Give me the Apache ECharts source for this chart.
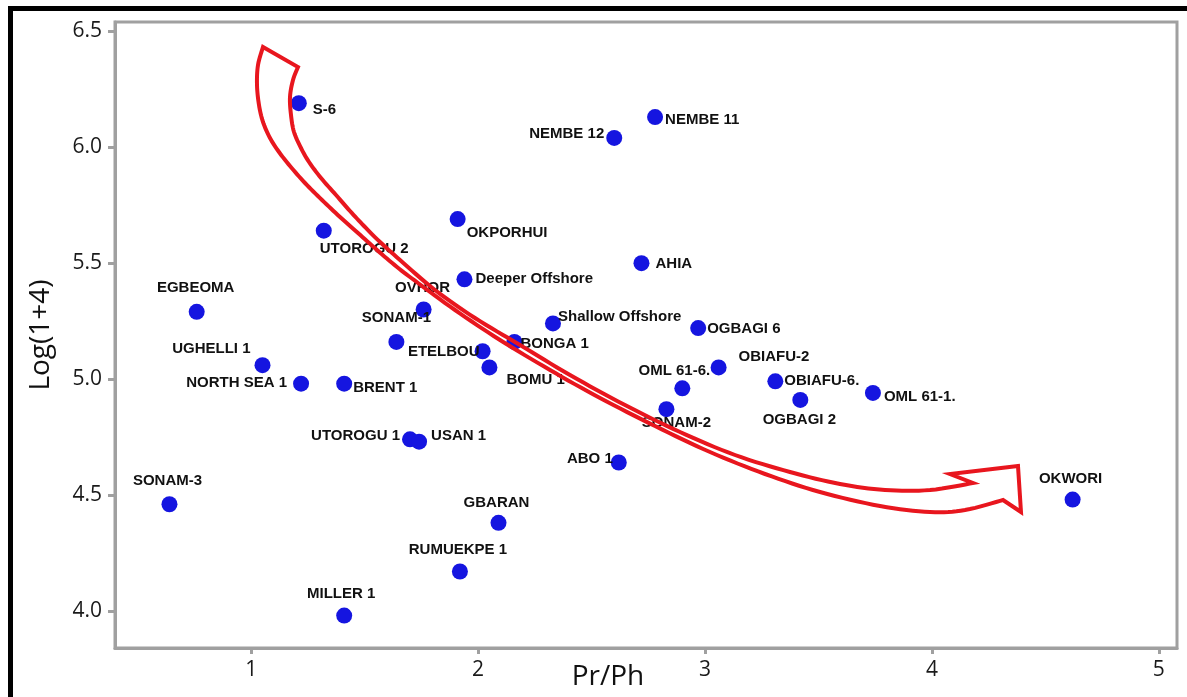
<!DOCTYPE html>
<html>
<head>
<meta charset="utf-8">
<script src="https://cdn.jsdelivr.net/npm/echarts@6/dist/echarts.min.js"></script>
<style>
  html, body { margin: 0; padding: 0; background: #fff; }
  #chart { width: 1187px; height: 697px; }
</style>
</head>
<body>
<div id="chart"></div>
<script>
// sample names and their values (Pr/Ph, Log(1+4))
const names = ['S-6', 'NEMBE 12', 'NEMBE 11', 'UTOROGU 2', 'OKPORHUI', 'AHIA', 'Deeper Offshore',
  'EGBEOMA', 'OVHOR', 'Shallow Offshore', 'OGBAGI 6', 'SONAM-1', 'ETELBOU', 'BONGA 1', 'BOMU 1',
  'UGHELLI 1', 'NORTH SEA 1', 'BRENT 1', 'OML 61-6.', 'OBIAFU-2', 'OBIAFU-6.', 'OGBAGI 2',
  'OML 61-1.', 'SONAM-2', 'UTOROGU 1', 'USAN 1', 'ABO 1', 'GBARAN', 'RUMUEKPE 1', 'MILLER 1',
  'SONAM-3', 'OKWORI'];
const prPh = [1.21, 2.60, 2.78, 1.32, 1.91, 2.72, 1.94,
  0.76, 1.76, 2.33, 2.97, 1.64, 2.02, 2.16, 2.05,
  1.05, 1.22, 1.41, 2.90, 3.06, 3.31, 3.42,
  3.74, 2.83, 1.70, 1.74, 2.62, 2.09, 1.92, 1.41,
  0.64, 4.62];
const logV = [6.19, 6.04, 6.13, 5.64, 5.69, 5.50, 5.43,
  5.29, 5.30, 5.24, 5.22, 5.16, 5.12, 5.16, 5.05,
  5.06, 4.98, 4.98, 4.96, 5.05, 4.99, 4.91,
  4.94, 4.87, 4.74, 4.73, 4.64, 4.38, 4.17, 3.98,
  4.46, 4.48];
const xTicks = [1, 2, 3, 4, 5];
const yTicks = [4.0, 4.5, 5.0, 5.5, 6.0, 6.5];

// label placement: [dx, dy, align] from the point centre
const labelPlace = {
  'S-6': [14, 7, 'left'], 'NEMBE 12': [-10, -4, 'right'], 'NEMBE 11': [10, 3, 'left'],
  'UTOROGU 2': [-4, 18, 'left'], 'OKPORHUI': [9, 14, 'left'], 'AHIA': [14, 1, 'left'],
  'Deeper Offshore': [11, 0, 'left'], 'EGBEOMA': [-1, -24, 'center'], 'OVHOR': [-1, -22, 'center'],
  'Shallow Offshore': [5, -7, 'left'], 'OGBAGI 6': [9, 1, 'left'], 'SONAM-1': [0, -24, 'center'],
  'ETELBOU': [-3, 1, 'right'], 'BONGA 1': [6, 2, 'left'], 'BOMU 1': [17, 12, 'left'],
  'UGHELLI 1': [-12, -16, 'right'], 'NORTH SEA 1': [-14, -1, 'right'], 'BRENT 1': [9, 4, 'left'],
  'OML 61-6.': [-8, -17, 'center'], 'OBIAFU-2': [20, -11, 'left'], 'OBIAFU-6.': [9, -1, 'left'],
  'OGBAGI 2': [-1, 20, 'center'], 'OML 61-1.': [11, 4, 'left'], 'SONAM-2': [10, 14, 'center'],
  'UTOROGU 1': [-10, -3, 'right'], 'USAN 1': [12, -6, 'left'], 'ABO 1': [-6, -4, 'right'],
  'GBARAN': [-2, -20, 'center'], 'RUMUEKPE 1': [-2, -22, 'center'], 'MILLER 1': [-3, -22, 'center'],
  'SONAM-3': [-2, -23, 'center'], 'OKWORI': [-2, -21, 'center']
};

const SYM = 16;
const points = names.map((n, i) => {
  const p = labelPlace[n];
  return {
    name: n,
    value: [prPh[i], logV[i]],
    label: { position: [SYM / 2 + p[0], SYM / 2 + p[1]], align: p[2], verticalAlign: 'middle' }
  };
});

// curved trend arrow (outline only), in chart pixels
const arrowUpper = [[298,67],[293,80],[290,97],[291,115],[294,132],[301,148],[309,162],[321,178],
  [336,195],[350,211],[364,226],[380,242],[400,260],[435,290],[475,318],[520,345],[570,375],
  [625,405],[680,432],[735,455],[790,472],[840,484],[885,490],[930,490],[973,483]];
const arrowLower = [[263,47],[258,65],[257,85],[259,105],[263,122],[270,138],[279,152],[290,166],
  [305,183],[322,200],[340,217],[358,233],[377,250],[397,267],[418,283],[455,310],[500,340],
  [550,370],[600,398],[655,426],[710,452],[765,474],[820,492],[880,506],[930,512],[965,510],[1003,500]];
const arrowHead = [[950,474],[1018,466],[1021,512]];

// Catmull-Rom through the points, sampled densely
function spline(pts) {
  const out = [pts[0]];
  for (let i = 0; i < pts.length - 1; i++) {
    const p0 = pts[Math.max(i - 1, 0)], p1 = pts[i], p2 = pts[i + 1], p3 = pts[Math.min(i + 2, pts.length - 1)];
    const c1 = [p1[0] + (p2[0] - p0[0]) / 6, p1[1] + (p2[1] - p0[1]) / 6];
    const c2 = [p2[0] - (p3[0] - p1[0]) / 6, p2[1] - (p3[1] - p1[1]) / 6];
    for (let k = 1; k <= 8; k++) {
      const t = k / 8, u = 1 - t;
      out.push([
        u * u * u * p1[0] + 3 * u * u * t * c1[0] + 3 * u * t * t * c2[0] + t * t * t * p2[0],
        u * u * u * p1[1] + 3 * u * u * t * c1[1] + 3 * u * t * t * c2[1] + t * t * t * p2[1]
      ]);
    }
  }
  return out;
}
const arrowOutline = [arrowLower[0]]
  .concat(spline(arrowUpper))
  .concat(arrowHead)
  .concat(spline(arrowLower.slice().reverse()));

const chart = echarts.init(document.getElementById('chart'));
chart.setOption({
  animation: false,
  backgroundColor: '#fff',
  grid: {
    left: 115, right: 10, top: 22, bottom: 49,
    outerBoundsMode: 'none',
    show: true, borderColor: '#a0a0a0', borderWidth: 3
  },
  xAxis: {
    type: 'value', min: 0.4, max: 5.08,
    name: 'Pr/Ph', nameLocation: 'middle', nameGap: 15, nameMoveOverlap: false,
    nameTextStyle: { fontFamily: 'Open Sans', fontSize: 28, color: '#111', padding: [0, 76, 0, 0] },
    axisLine: { lineStyle: { color: '#a0a0a0', width: 3 } },
    axisTick: { customValues: xTicks, length: 6, lineStyle: { color: '#a0a0a0', width: 3 } },
    axisLabel: { customValues: xTicks, margin: 12, fontFamily: 'Open Sans', fontSize: 21, color: '#1a1a1a' },
    splitLine: { show: false }
  },
  yAxis: {
    type: 'value', min: 3.84, max: 6.54,
    name: 'Log(1+4)', nameLocation: 'middle', nameGap: 60, nameMoveOverlap: false,
    nameTextStyle: { fontFamily: 'Open Sans', fontSize: 28, color: '#111' },
    axisLine: { show: true, lineStyle: { color: '#a0a0a0', width: 3 } },
    axisTick: { show: true, customValues: yTicks, length: 7, lineStyle: { color: '#a0a0a0', width: 3 } },
    axisLabel: {
      customValues: yTicks, margin: 13, fontFamily: 'Open Sans', fontSize: 21, color: '#1a1a1a',
      formatter: v => v.toFixed(1)
    },
    splitLine: { show: false }
  },
  series: [{
    type: 'scatter',
    symbolSize: SYM,
    itemStyle: { color: '#1515e0', opacity: 1 },
    label: {
      show: true, formatter: '{b}',
      fontFamily: 'Liberation Sans', fontSize: 15, fontWeight: 'bold', color: '#111'
    },
    data: points
  }],
  graphic: [
    { type: 'rect', shape: { x: 10.5, y: 8.5, width: 1200, height: 720 },
      style: { stroke: '#000', lineWidth: 5, fill: null }, z: 100 },
    { type: 'polygon', shape: { points: arrowOutline },
      style: { stroke: '#e8161e', lineWidth: 4, fill: null, lineJoin: 'miter' }, z: 50 }
  ]
});
</script>
</body>
</html>
